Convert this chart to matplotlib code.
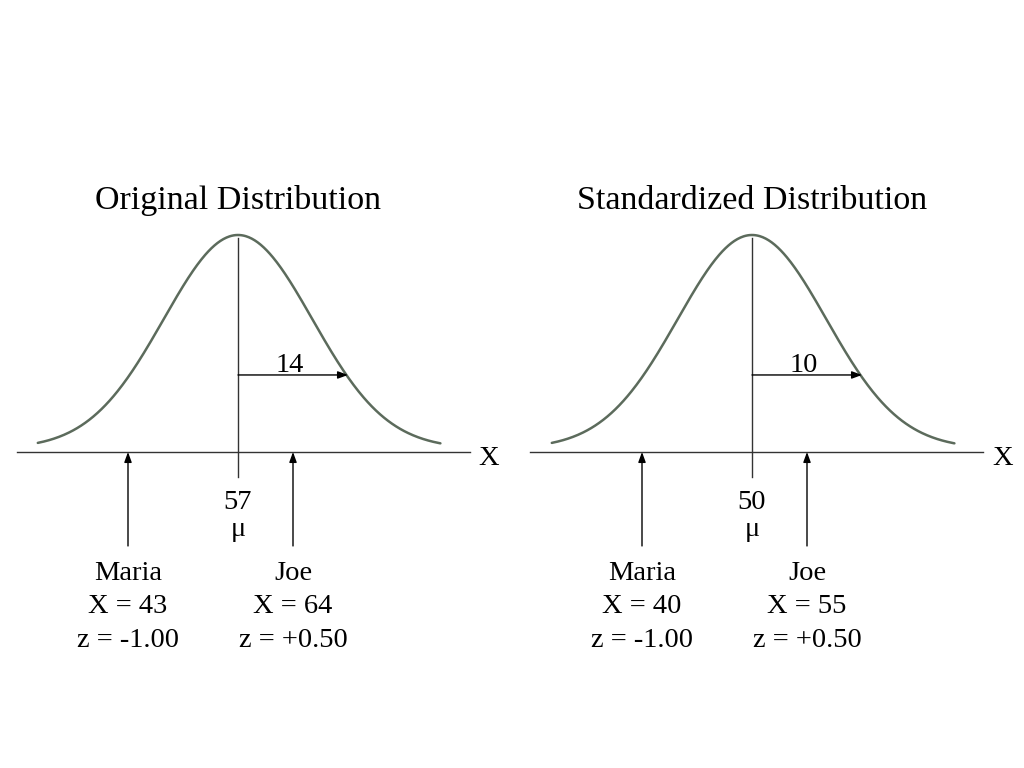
import numpy as np
import matplotlib
matplotlib.use("Agg")
import matplotlib.pyplot as plt

plt.rcParams['font.family'] = ['Liberation Serif', 'DejaVu Serif']

titles = ["Original Distribution", "Standardized Distribution"]
means = [57, 50]
sds = [14, 10]
names = ["Maria", "Joe"]
maria_x = [43, 40]
joe_x = [64, 55]
maria_z = [-1.00, -1.00]
joe_z = [0.50, 0.50]

W, H = 1024, 768
fig = plt.figure(figsize=(W / 100, H / 100), dpi=100)

px_per_sd = 110.0
panel_left_px = [17, 530]
center_px = [238, 752]
axis_width_px = 453
base_px, top_px = 452, 235

curve_color = "#5c6b5c"
fs = 20.5

for i in range(2):
    mu, sd = means[i], sds[i]
    ax = fig.add_axes([panel_left_px[i] / W, (H - base_px) / H,
                       axis_width_px / W, (base_px - top_px) / H])
    zmin = (panel_left_px[i] - center_px[i]) / px_per_sd
    zmax = (panel_left_px[i] + axis_width_px - center_px[i]) / px_per_sd
    ax.set_xlim(mu + zmin * sd, mu + zmax * sd)
    ax.set_ylim(0, 1)
    ax.axis("off")

    # schematic bell curve
    x = np.linspace(mu - 1.82 * sd, mu + 1.84 * sd, 400)
    g = np.exp(-0.5 * ((x - mu) / (0.675 * sd)) ** 2)
    ax.plot(x, 0.016 + 0.984 * g, color=curve_color, lw=1.8, clip_on=False,
            solid_capstyle="round")

    # baseline
    ax.plot([mu + zmin * sd, mu + zmax * sd], [0, 0], color="#333333", lw=1.0,
            clip_on=False)
    ax.text(mu + 2.28 * sd, -0.03, "X", fontsize=fs, ha="center", va="center")

    # mean line
    ax.plot([mu, mu], [-0.115, 0.986], color="#333333", lw=1.0, clip_on=False)

    # sd arrow
    ax.annotate("", xy=(mu + sd, 0.355), xytext=(mu, 0.355),
                arrowprops=dict(arrowstyle="-|>,head_length=0.6,head_width=0.22",
                                color="black", lw=1.0, shrinkA=0, shrinkB=0),
                annotation_clip=False)
    ax.text(mu + 0.47 * sd, 0.40, f"{sd}", fontsize=fs, ha="center", va="center")

    # mean labels
    ax.text(mu, -0.232, f"{mu}", fontsize=fs, ha="center", va="center")
    ax.text(mu, -0.357, "μ", fontsize=fs, ha="center", va="center")

    # title
    ax.text(mu, 1.16, titles[i], fontsize=24.5, ha="center", va="center")

    # people
    for name, xv, zv in [("Maria", maria_x[i], maria_z[i]), ("Joe", joe_x[i], joe_z[i])]:
        ax.annotate("", xy=(xv, 0.0), xytext=(xv, -0.433),
                    arrowprops=dict(arrowstyle="-|>,head_length=0.6,head_width=0.22",
                                    color="black", lw=1.0, shrinkA=0, shrinkB=0),
                    annotation_clip=False)
        zs = f"{zv:+.2f}" if zv > 0 else f"{zv:.2f}"
        ax.text(xv, -0.558, name, fontsize=fs, ha="center", va="center")
        ax.text(xv, -0.714, f"X = {xv}", fontsize=fs, ha="center", va="center")
        ax.text(xv, -0.867, f"z = {zs}", fontsize=fs, ha="center", va="center")

fig.savefig("out.png", dpi=100, facecolor="white")
